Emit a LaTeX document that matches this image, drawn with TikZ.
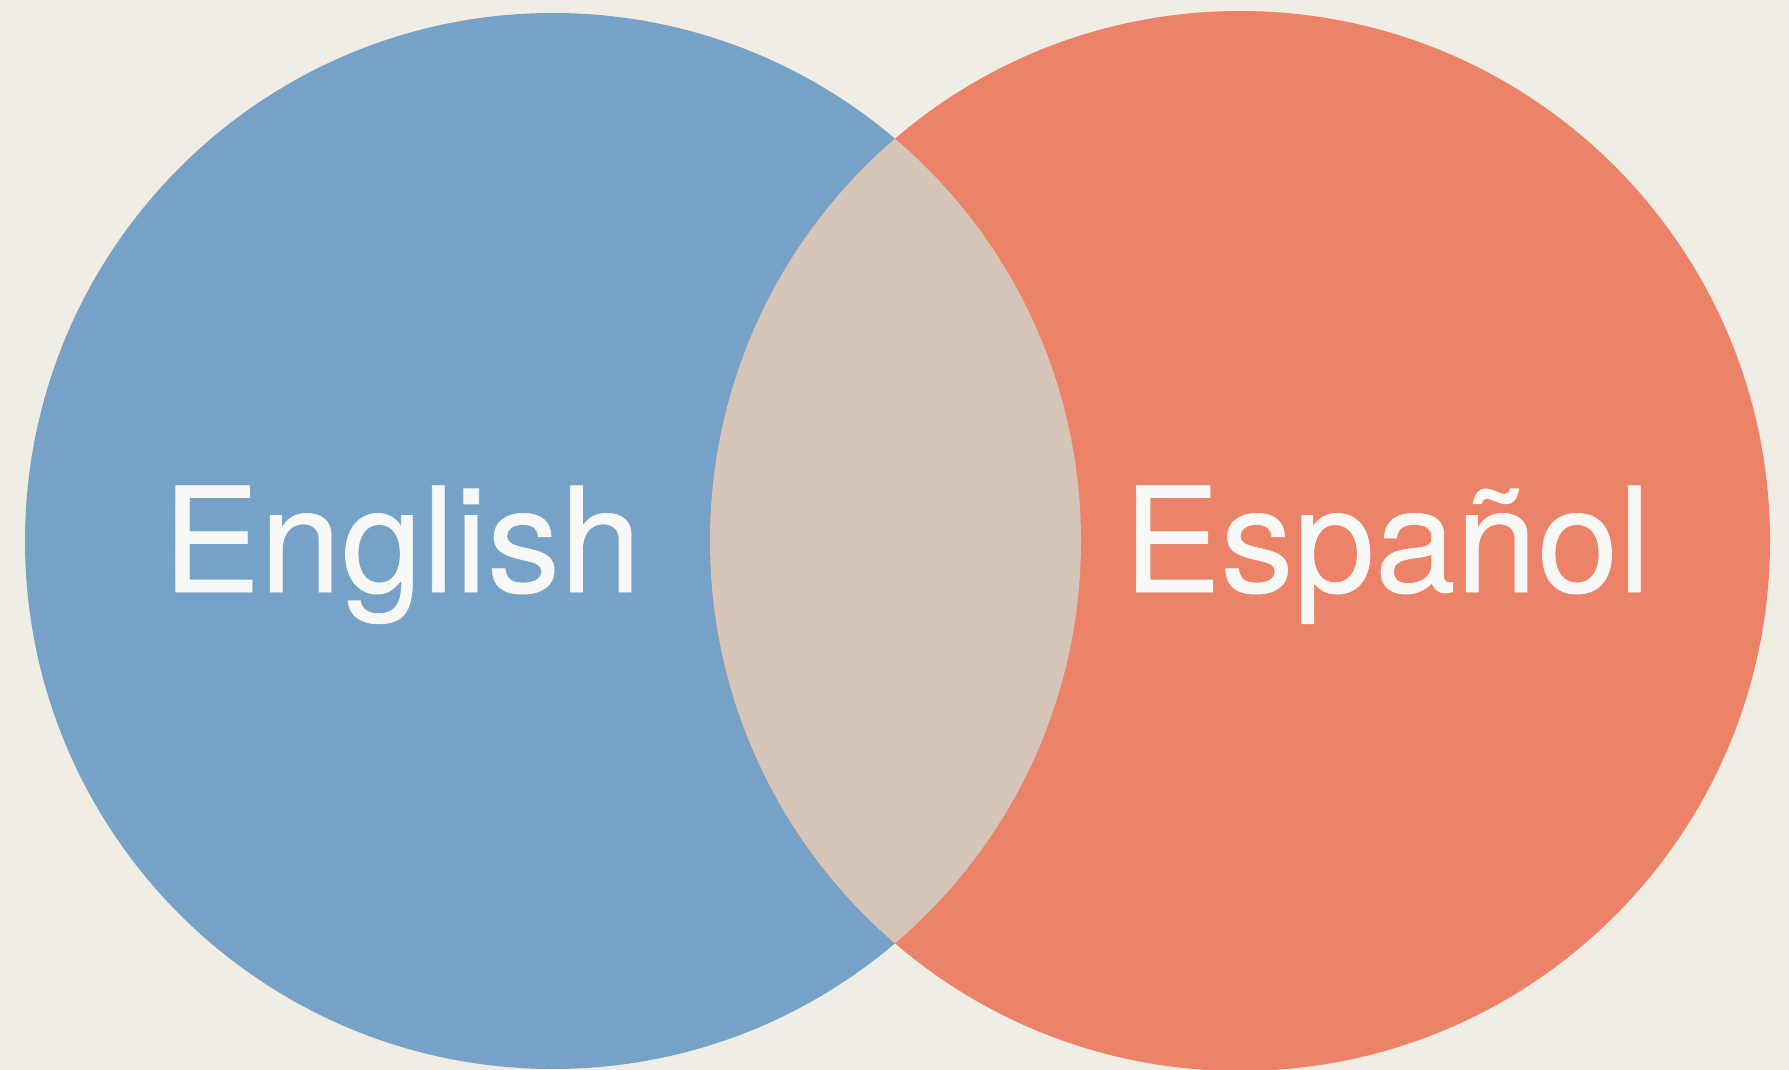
\documentclass[tikz,border=0pt]{standalone}
\usepackage{fontspec}
\setmainfont{TeX Gyre Heros}
\newfontfamily\labelfont[FakeBold=0.4]{TeX Gyre Heros}
\definecolor{bgc}{HTML}{F0EDE5}
\definecolor{bluec}{HTML}{76A2C8}
\definecolor{redc}{HTML}{EC8268}
\definecolor{lensc}{HTML}{D5C4B8}
\definecolor{txtc}{HTML}{F8F8F6}
\begin{document}
\begin{tikzpicture}[x=1pt,y=-1pt,
  label text/.style={text=txtc, anchor=base, inner sep=0pt,
    font=\labelfont\fontsize{146}{160}\selectfont}]
\fill[bgc] (0,0) rectangle (1789,1070);
\useasboundingbox (0,0) rectangle (1789,1070);
\fill[bluec] (553,541) circle[radius=528];
\fill[redc] (1240,541) circle[radius=530];
\begin{scope}
  \clip (553,541) circle[radius=528];
  \fill[lensc] (1240,541) circle[radius=530];
\end{scope}
\node[label text] (en) at (402,592) {English};
\node[label text] (es) at (1387,592) {Español};
\end{tikzpicture}
\end{document}
